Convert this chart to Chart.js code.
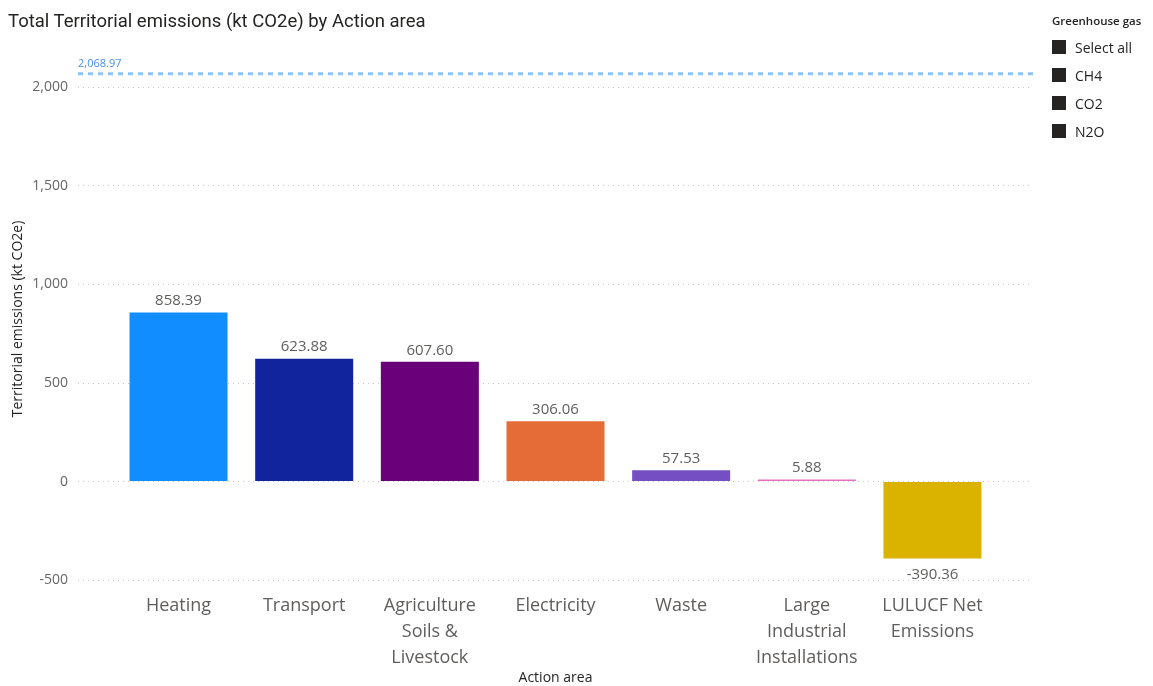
<!DOCTYPE html>
<html>
<head>
<meta charset="utf-8">
<script src="https://cdn.jsdelivr.net/npm/chart.js@4.4.1/dist/chart.umd.min.js"></script>
<style>
  body { margin: 0; background: #fff; }
  #wrap { position: relative; width: 1153px; height: 686px; }
  #title {
    position: absolute; left: 8px; top: 10px;
    font: 18.5px Roboto, sans-serif; color: #252423;
  }
  #slicer {
    position: absolute; left: 1052px; top: 13px;
    font-family: "Open Sans", sans-serif; color: #252423;
  }
  #slicer .head { font-size: 11.5px; font-weight: 600; margin-bottom: 5px; }
  #slicer .item { display: flex; align-items: center; height: 28px; font-size: 14px; }
  #slicer .box { width: 14px; height: 14px; background: #252423; margin-right: 9px; }
</style>
</head>
<body>
<div id="wrap">
  <canvas id="chart" width="1153" height="686"></canvas>
  <div id="title">Total Territorial emissions (kt CO2e) by Action area</div>
  <div id="slicer">
    <div class="head">Greenhouse gas</div>
  </div>
</div>
<script>
// data
const categories = [
  ["Heating"],
  ["Transport"],
  ["Agriculture", "Soils &", "Livestock"],
  ["Electricity"],
  ["Waste"],
  ["Large", "Industrial", "Installations"],
  ["LULUCF Net", "Emissions"]
];
const emissions = [858.39, 623.88, 607.60, 306.06, 57.53, 5.88, -390.36];
const barColors = ["#118DFF", "#12239E", "#6B007B", "#E66C37", "#744EC2", "#E66FC0", "#D9B300"];
const yTicks = [-500, 0, 500, 1000, 1500, 2000];
const refValue = 2068.97;
const gasOptions = ["Select all", "CH4", "CO2", "N2O"];

const xMin = -0.8, xMax = categories.length - 1 + 0.8;

// slicer list on the right
const slicer = document.getElementById("slicer");
gasOptions.forEach(g => {
  const row = document.createElement("div");
  row.className = "item";
  row.innerHTML = `<span class="box"></span><span>${g}</span>`;
  slicer.appendChild(row);
});

const fmt = (v, d) => v.toLocaleString("en-US", { minimumFractionDigits: d, maximumFractionDigits: d });

// value labels on bars + label for the reference line
const labelPlugin = {
  id: "barLabels",
  afterDatasetsDraw(chart) {
    const ctx = chart.ctx;
    const meta = chart.getDatasetMeta(0);
    ctx.save();
    ctx.font = "15px 'Open Sans', sans-serif";
    ctx.fillStyle = "#605E5C";
    ctx.textAlign = "center";
    meta.data.forEach((bar, i) => {
      const v = emissions[i];
      if (v >= 0) {
        ctx.textBaseline = "bottom";
        ctx.fillText(fmt(v, 2), bar.x, bar.y - 4);
      } else {
        ctx.textBaseline = "top";
        ctx.fillText(fmt(v, 2), bar.x, bar.y + 9);
      }
    });
    const yRef = chart.scales.y.getPixelForValue(refValue);
    ctx.font = "11px 'Open Sans', sans-serif";
    ctx.fillStyle = "#4A8FEA";
    ctx.textAlign = "left";
    ctx.textBaseline = "bottom";
    ctx.fillText(fmt(refValue, 2), chart.chartArea.left, yRef - 4);
    ctx.restore();
  }
};

new Chart(document.getElementById("chart"), {
  type: "bar",
  data: {
    datasets: [
      {
        label: "Territorial emissions",
        data: emissions.map((v, i) => ({ x: i, y: v })),
        backgroundColor: barColors,
        barPercentage: 0.78,
        categoryPercentage: 1,
        minBarLength: 2,
        order: 2
      },
      {
        type: "line",
        label: "Reference",
        data: [{ x: xMin, y: refValue }, { x: xMax, y: refValue }],
        borderColor: "#8CC4FF",
        borderWidth: 3,
        borderDash: [5, 5],
        pointRadius: 0,
        order: 1
      }
    ]
  },
  options: {
    responsive: false,
    animation: false,
    layout: { padding: { left: 0, top: 48, right: 120, bottom: 0 } },
    plugins: {
      legend: { display: false },
      tooltip: { enabled: false }
    },
    scales: {
      x: {
        type: "linear",
        min: xMin,
        max: xMax,
        offset: false,
        grid: { display: false, drawTicks: false, offset: false },
        border: { display: false },
        afterBuildTicks(scale) {
          scale.ticks = categories.map((c, i) => ({ value: i }));
        },
        afterFit(scale) { scale.height = 96; },
        ticks: {
          autoSkip: false,
          maxRotation: 0,
          padding: 3,
          color: "#605E5C",
          font: { family: "'Open Sans', sans-serif", size: 18, lineHeight: 1.45 },
          callback: (v) => categories[v] || ""
        },
        title: {
          display: true,
          text: "Action area",
          color: "#252423",
          padding: { top: 0, bottom: 0 },
          font: { family: "'Open Sans', sans-serif", size: 14 }
        }
      },
      y: {
        min: -550,
        max: 2200,
        grid: { color: "#C8C8C8", lineWidth: 1, drawTicks: false },
        border: { display: false, dash: [1, 4] },
        afterBuildTicks(scale) {
          scale.ticks = yTicks.map(v => ({ value: v }));
        },
        afterFit(scale) { scale.width = 78; },
        ticks: {
          padding: 10,
          color: "#666666",
          font: { family: "'Open Sans', sans-serif", size: 14 },
          callback: (v) => fmt(v, 0)
        },
        title: {
          display: true,
          text: "Territorial emissions (kt CO2e)",
          color: "#252423",
          padding: { top: 10, bottom: 0 },
          font: { family: "'Open Sans', sans-serif", size: 14 }
        }
      }
    }
  },
  plugins: [labelPlugin]
});
</script>
</body>
</html>
